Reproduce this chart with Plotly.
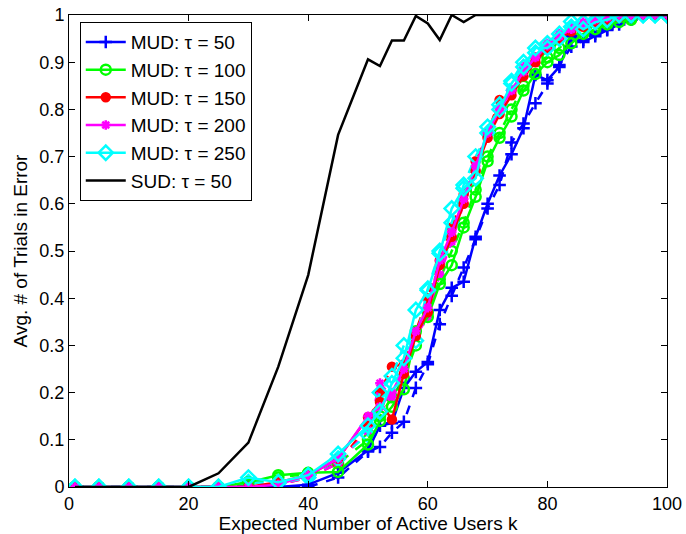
import plotly.graph_objects as go

# Expected number of active users k
k_values = [1, 5, 10, 15, 20, 25, 30, 35, 40, 45, 50, 52, 54, 56, 58, 60, 62, 64, 66, 68,
            70, 72, 74, 76, 78, 80, 82, 84, 86, 88, 90, 92, 94, 96, 98, 100]

# MUD, solid curves
mud_tau50 = [0, 0, 0, 0, 0, 0, 0, 0, 0.005, 0.03, 0.078, 0.13, 0.135, 0.21, 0.244, 0.265, 0.375, 0.422,
             0.435, 0.53, 0.6, 0.66, 0.705, 0.76, 0.873, 0.862, 0.89, 0.955, 0.943, 0.955, 0.968, 0.98,
             0.99, 1, 1, 1]
mud_tau100 = [0, 0, 0, 0, 0, 0, 0.01, 0.025, 0.03, 0.032, 0.09, 0.14, 0.17, 0.207, 0.33, 0.36, 0.43, 0.47,
              0.55, 0.615, 0.69, 0.74, 0.785, 0.84, 0.875, 0.9, 0.915, 0.94, 0.96, 0.97, 0.98, 0.985,
              0.99, 1, 1, 1]
mud_tau150 = [0, 0, 0, 0, 0, 0, 0, 0.01, 0.025, 0.06, 0.148, 0.18, 0.143, 0.24, 0.32, 0.37, 0.47, 0.53,
              0.6, 0.67, 0.74, 0.79, 0.83, 0.87, 0.9, 0.93, 0.95, 0.965, 0.975, 0.985, 0.99, 0.995,
              1, 1, 1, 1]
mud_tau200 = [0, 0, 0, 0, 0, 0, 0, 0.005, 0.025, 0.06, 0.15, 0.17, 0.2, 0.25, 0.33, 0.38, 0.48, 0.54,
              0.61, 0.68, 0.75, 0.8, 0.84, 0.88, 0.91, 0.935, 0.955, 0.97, 0.98, 0.99, 0.995, 1,
              1, 1, 1, 1]
mud_tau250 = [0, 0, 0, 0, 0, 0, 0.02, 0.01, 0.025, 0.07, 0.13, 0.16, 0.22, 0.273, 0.375, 0.417, 0.495, 0.59,
              0.633, 0.654, 0.763, 0.8, 0.855, 0.89, 0.93, 0.93, 0.95, 0.986, 0.97, 0.985, 0.99, 1,
              1, 1, 1, 1]

# MUD, dashed companion curves
mud_tau50_d = [0, 0, 0, 0, 0, 0, 0, 0, 0, 0.02, 0.075, 0.085, 0.115, 0.138, 0.21, 0.26, 0.345, 0.405,
               0.465, 0.525, 0.59, 0.64, 0.73, 0.77, 0.813, 0.855, 0.894, 0.933, 0.947, 0.96, 0.97, 0.985,
               0.99, 1, 1, 1]
mud_tau100_d = [0, 0, 0, 0, 0, 0, 0.005, 0.02, 0.028, 0.05, 0.1, 0.15, 0.19, 0.23, 0.3, 0.37, 0.44, 0.5,
                0.56, 0.63, 0.7, 0.75, 0.8, 0.85, 0.885, 0.91, 0.93, 0.955, 0.965, 0.975, 0.985, 0.99,
                0.995, 1, 1, 1]
mud_tau150_d = [0, 0, 0, 0, 0, 0, 0, 0.005, 0.02, 0.05, 0.13, 0.2, 0.255, 0.26, 0.33, 0.4, 0.48, 0.55,
                0.62, 0.69, 0.75, 0.82, 0.84, 0.88, 0.91, 0.935, 0.955, 0.97, 0.98, 0.99, 0.995, 1,
                1, 1, 1, 1]
mud_tau200_d = [0, 0, 0, 0, 0, 0, 0, 0.005, 0.02, 0.05, 0.12, 0.22, 0.19, 0.25, 0.32, 0.36, 0.45, 0.52,
                0.6, 0.67, 0.74, 0.8, 0.84, 0.89, 0.91, 0.94, 0.96, 0.975, 0.985, 0.99, 1, 1,
                1, 1, 1, 1]
mud_tau250_d = [0, 0, 0, 0, 0, 0, 0.01, 0.008, 0.02, 0.06, 0.11, 0.2, 0.235, 0.3, 0.31, 0.42, 0.5, 0.56,
                0.64, 0.7, 0.75, 0.81, 0.86, 0.9, 0.92, 0.94, 0.96, 0.975, 0.985, 0.99, 1, 1,
                1, 1, 1, 1]

# SUD
sud_tau50 = [0, 0, 0, 0, 0, 0.029, 0.094, 0.255, 0.449, 0.746, 0.906, 0.892, 0.946, 0.946, 0.998, 0.982,
             0.947, 1.0, 0.985, 1.0, 1, 1, 1, 1, 1, 1, 1, 1, 1, 1, 1, 1, 1, 1, 1, 1]

legend_names = ["MUD: \u03c4 = 50", "MUD: \u03c4 = 100", "MUD: \u03c4 = 150",
                "MUD: \u03c4 = 200", "MUD: \u03c4 = 250", "SUD: \u03c4 = 50"]
y_ticks = [0, 0.1, 0.2, 0.3, 0.4, 0.5, 0.6, 0.7, 0.8, 0.9, 1]
y_tick_text = ["0", "0.1", "0.2", "0.3", "0.4", "0.5", "0.6", "0.7", "0.8", "0.9", "1"]
x_ticks = [0, 20, 40, 60, 80, 100]

FONT = "Liberation Sans, Arial, sans-serif"

styles = [
    ("#0000ff", "cross-thin", 9),
    ("#00ff00", "circle-open", 10),
    ("#ff0000", "circle", 8),
    ("#ff00ff", "asterisk", 8),
    ("#00ffff", "diamond-open", 11),
]

solid = [mud_tau50, mud_tau100, mud_tau150, mud_tau200, mud_tau250]
dashed = [mud_tau50_d, mud_tau100_d, mud_tau150_d, mud_tau200_d, mud_tau250_d]

fig = go.Figure()

for i, ys in enumerate(dashed):
    c, sym, sz = styles[i]
    fig.add_trace(go.Scatter(
        x=k_values, y=ys, mode="lines+markers", showlegend=False,
        line=dict(color=c, width=2.5, dash="dash"),
        marker=dict(symbol=sym, size=sz, color=c, line=dict(color=c, width=2.5)),
    ))

for i, ys in enumerate(solid):
    c, sym, sz = styles[i]
    fig.add_trace(go.Scatter(
        x=k_values, y=ys, mode="lines+markers", name=legend_names[i],
        legendrank=i + 1,
        line=dict(color=c, width=2.5),
        marker=dict(symbol=sym, size=sz, color=c, line=dict(color=c, width=2.5)),
    ))

fig.add_trace(go.Scatter(
    x=k_values, y=sud_tau50, mode="lines", name=legend_names[5],
    legendrank=6,
    line=dict(color="#000000", width=2.5),
))

axis_common = dict(
    showgrid=False, zeroline=False, showline=True, linecolor="black", linewidth=1,
    mirror="ticks", ticks="inside", ticklen=6, tickwidth=1, tickcolor="black",
    tickfont=dict(family=FONT, size=18, color="black"), automargin=False,
)

fig.update_layout(
    width=686, height=534,
    margin=dict(l=69, r=19, t=15, b=47, autoexpand=False),
    paper_bgcolor="white", plot_bgcolor="white",
    font=dict(family=FONT, size=18, color="black"),
    xaxis=dict(range=[0, 100], tickvals=x_ticks,
               title=dict(text="Expected Number of Active Users k",
                          font=dict(family=FONT, size=19)),
               **axis_common),
    yaxis=dict(range=[0, 1], tickvals=y_ticks, ticktext=y_tick_text,
               title=dict(text="Avg. # of Trials in Error",
                          font=dict(family=FONT, size=19), standoff=6),
               **axis_common),
    legend=dict(x=0.018, y=0.985, xanchor="left", yanchor="top",
                bgcolor="white", bordercolor="black", borderwidth=1,
                font=dict(family=FONT, size=19), tracegroupgap=0,
                itemwidth=40),
)

fig.write_html("out.html")
